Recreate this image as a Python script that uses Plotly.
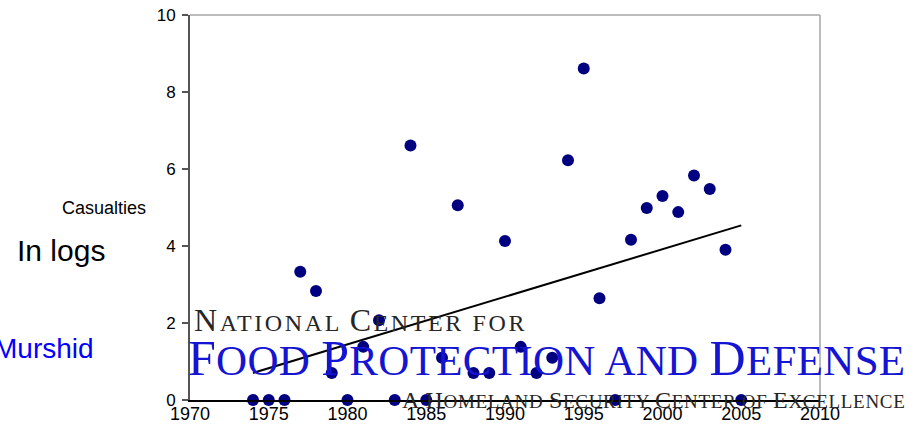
import numpy as np
import plotly.graph_objects as go

# ---- data ----
years = list(range(1974, 2006))
casualties_log = [
    0.0, 0.0, 0.0, 3.33, 2.83, 0.70, 0.0, 1.38, 2.07, 0.0,
    6.61, 0.0, 1.10, 5.06, 0.70, 0.70, 4.13, 1.38, 0.70, 1.10,
    6.23, 8.61, 2.64, 0.0, 4.16, 4.99, 5.30, 4.88, 5.83, 5.48,
    3.90, 0.0,
]
x_ticks = [1970, 1975, 1980, 1985, 1990, 1995, 2000, 2005, 2010]
y_ticks = [0, 2, 4, 6, 8, 10]

# linear trend (least squares) drawn across the data span
slope, intercept = np.polyfit(years, casualties_log, 1)
trend_x = [min(years), max(years)]
trend_y = [slope * v + intercept for v in trend_x]

fig = go.Figure()
fig.add_trace(go.Scatter(
    x=trend_x, y=trend_y, mode="lines",
    line=dict(color="black", width=2), hoverinfo="skip", showlegend=False,
))
fig.add_trace(go.Scatter(
    x=years, y=casualties_log, mode="markers",
    marker=dict(color="#000080", size=12), showlegend=False, cliponaxis=False,
))


def smallcaps(words, big, small, spacing, keep_small=()):
    parts = []
    for w in words:
        first_size = small if w in keep_small else big
        seg = f"<span style='font-size:{first_size}px;letter-spacing:{spacing}px'>{w[0]}</span>"
        if len(w) > 1:
            seg += f"<span style='font-size:{small}px;letter-spacing:{spacing}px'>{w[1:]}</span>"
        parts.append(seg)
    sep = f"<span style='font-size:{small}px;letter-spacing:{spacing}px'> </span>"
    return sep.join(parts)


logo1 = smallcaps(["NATIONAL", "CENTER", "FOR"], 32, 24, 2.6, keep_small=("FOR",))
logo2 = smallcaps(["FOOD", "PROTECTION", "AND", "DEFENSE"], 50, 43, 0.3, keep_small=("AND",))
logo3 = smallcaps(["A", "HOMELAND", "SECURITY", "CENTER", "OF", "EXCELLENCE"], 24, 19, 0.7,
                  keep_small=("OF",))

serif = "Liberation Serif"
annotations = [
    dict(text=logo1, x=0.003, y=0.208, xref="paper", yref="paper", xanchor="left",
         yanchor="middle", showarrow=False, font=dict(family=serif, size=24, color="#262626")),
    dict(text=logo2, x=-0.006, y=0.108, xref="paper", yref="paper", xanchor="left",
         yanchor="middle", showarrow=False, font=dict(family=serif, size=43, color="#1414d2")),
    dict(text=logo3, x=0.333, y=0.001, xref="paper", yref="paper", xanchor="left",
         yanchor="middle", showarrow=False, font=dict(family=serif, size=19, color="#262626")),
    dict(text="Casualties", x=-0.1365, y=0.499, xref="paper", yref="paper",
         xanchor="center", yanchor="middle", showarrow=False,
         font=dict(family="Liberation Sans", size=18, color="black")),
    dict(text="In logs", x=-0.2048, y=0.389, xref="paper", yref="paper",
         xanchor="center", yanchor="middle", showarrow=False,
         font=dict(family="Liberation Sans", size=30, color="black")),
    dict(text="Murshid", x=-0.149, y=0.134, xref="paper", yref="paper",
         xanchor="right", yanchor="middle", showarrow=False,
         font=dict(family="Liberation Sans", size=28, color="#0000ff")),
]

shapes = [
    dict(type="line", xref="paper", yref="paper", x0=0, x1=1, y0=1, y1=1,
         line=dict(color="#a6a6a6", width=1.5), layer="below"),
    dict(type="line", xref="paper", yref="paper", x0=1, x1=1, y0=0, y1=1,
         line=dict(color="#a6a6a6", width=1.5), layer="below"),
]

fig.update_layout(
    width=920, height=436,
    margin=dict(l=190, r=100, t=15, b=36, autoexpand=False),
    paper_bgcolor="white", plot_bgcolor="white",
    font=dict(family="Liberation Sans", size=16, color="black"),
    annotations=annotations, shapes=shapes,
    xaxis=dict(range=[1970, 2010], tickvals=x_ticks, ticktext=[str(v) for v in x_ticks],
               showgrid=False, zeroline=False, showline=True, linecolor="black",
               linewidth=1.5, ticks="", tickfont=dict(size=18), automargin=False,
               ticklabelstandoff=-3),
    yaxis=dict(range=[0, 10], tickvals=y_ticks, ticktext=[str(v) for v in y_ticks],
               showgrid=False, zeroline=False, showline=True, linecolor="#555555",
               linewidth=2, ticks="outside", ticklen=6, tickcolor="#555555",
               tickwidth=1.5, tickfont=dict(size=17), ticklabelstandoff=3,
               automargin=False),
)

fig.write_html(
    "out.html",
    config={"displayModeBar": False},
    post_script="document.body.style.margin='0';document.body.style.overflow='hidden';",
)
